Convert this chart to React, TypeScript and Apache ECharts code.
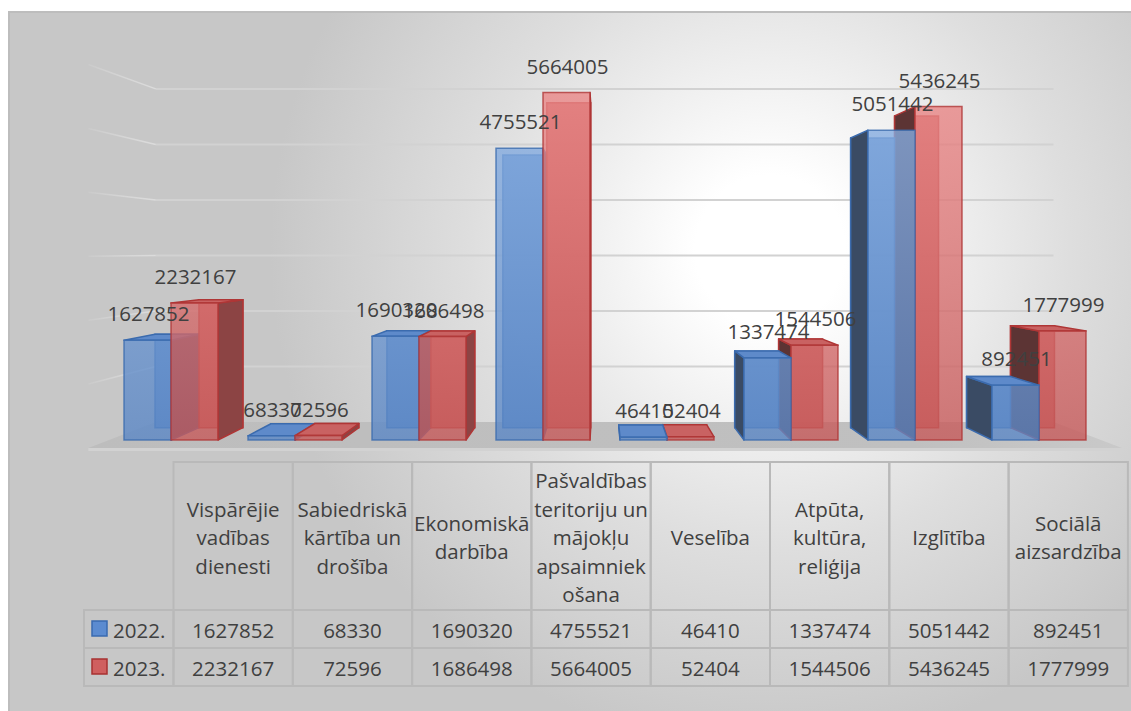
import React, { useEffect, useRef } from "react";
import * as echarts from "echarts";

// ---------- data ----------
const categories = [
  "Vispārējie\nvadības\ndienesti",
  "Sabiedriskā\nkārtība un\ndrošība",
  "Ekonomiskā\ndarbība",
  "Pašvaldības\nteritoriju un\nmājokļu\napsaimniek\nošana",
  "Veselība",
  "Atpūta,\nkultūra,\nreliģija",
  "Izglītība",
  "Sociālā\naizsardzība",
];
const seriesNames = ["2022.", "2023."];
const values2022 = [1627852, 68330, 1690320, 4755521, 46410, 1337474, 5051442, 892451];
const values2023 = [2232167, 72596, 1686498, 5664005, 52404, 1544506, 5436245, 1777999];
const valueTicks = [1000000, 2000000, 3000000, 4000000, 5000000, 6000000];
const seriesValues = [values2022, values2023];

// ---------- style / layout ----------
const FONT = "'Open Sans', 'Noto Sans', sans-serif";
const FS = 20.5;
const TEXT_C = "#404040";
const VP = [601, 250];
const S_BAR_BACK = 0.935;
const S_FLOOR_FRONT = 1.042;
const S_WALL = 0.905;
const BAR_FRAC = 0.379;

const proj = (x: number, y: number, s: number) => [VP[0] + s * (x - VP[0]), VP[1] + s * (y - VP[1])];

const PALETTE = [
  {
    gTop: "#8DB3E5",
    gBot: "#5B87C5",
    edge: "#3B6BAE",
    sideR: "#3E5F8E",
    sideL: "#3A4B64",
    top: "#5E8ACA",
    key: "#5B8BD0",
    keyEdge: "#3A6BB0",
  },
  {
    gTop: "#EC8A8A",
    gBot: "#C65A5A",
    edge: "#AF3636",
    sideR: "#8C4444",
    sideL: "#5C3434",
    top: "#C96262",
    key: "#CF5F5F",
    keyEdge: "#A83232",
  },
];

const barItems: number[][] = [];
categories.forEach((_, i) => {
  seriesValues.forEach((vals, si) => barItems.push([i, vals[i], si]));
});

// table layout
const TBL_LEFT = 173.5;
const COL_W = 119.3;
const HEAD_TOP = 462;
const HEAD_H = 148;
const ROW_H = 38;
const LEG_LEFT = 84;
const LINE_C = "#B9B9B9";

function buildGraphic() {
  const els: any[] = [];
  els.push({
    type: "rect",
    z: -10,
    silent: true,
    shape: { x: 9, y: 12, width: 1140, height: 720 },
    style: {
      fill: new echarts.graphic.RadialGradient(
        770,
        250,
        500,
        [
          { offset: 0, color: "#FFFFFF" },
          { offset: 0.15, color: "#FFFFFF" },
          { offset: 0.6, color: "#DEDEDE" },
          { offset: 1, color: "#C7C7C7" },
        ],
        true
      ),
      stroke: "#BDBDBD",
      lineWidth: 2,
    },
  });
  // header cells
  categories.forEach((name, i) => {
    const x = TBL_LEFT + i * COL_W;
    els.push({
      type: "rect",
      silent: true,
      shape: { x, y: HEAD_TOP, width: COL_W, height: HEAD_H },
      style: { fill: "none", stroke: LINE_C, lineWidth: 2 },
    });
    els.push({
      type: "text",
      silent: true,
      style: {
        text: name,
        x: x + COL_W / 2,
        y: HEAD_TOP + HEAD_H / 2 + 1,
        align: "center",
        verticalAlign: "middle",
        fontFamily: FONT,
        fontSize: FS,
        lineHeight: 28.5,
        fill: TEXT_C,
      },
    });
  });
  // data rows
  seriesNames.forEach((sn, r) => {
    const y = HEAD_TOP + HEAD_H + r * ROW_H;
    els.push({
      type: "rect",
      silent: true,
      shape: { x: LEG_LEFT, y, width: TBL_LEFT - LEG_LEFT, height: ROW_H },
      style: { fill: "none", stroke: LINE_C, lineWidth: 2 },
    });
    els.push({
      type: "rect",
      silent: true,
      shape: { x: 92, y: y + 11, width: 15, height: 15 },
      style: { fill: PALETTE[r].key, stroke: PALETTE[r].keyEdge, lineWidth: 1.5 },
    });
    els.push({
      type: "text",
      silent: true,
      style: {
        text: sn,
        x: 113,
        y: y + ROW_H / 2 + 1,
        align: "left",
        verticalAlign: "middle",
        fontFamily: FONT,
        fontSize: FS,
        fill: TEXT_C,
      },
    });
    seriesValues[r].forEach((v, i) => {
      const x = TBL_LEFT + i * COL_W;
      els.push({
        type: "rect",
        silent: true,
        shape: { x, y, width: COL_W, height: ROW_H },
        style: { fill: "none", stroke: LINE_C, lineWidth: 2 },
      });
      els.push({
        type: "text",
        silent: true,
        style: {
          text: String(v),
          x: x + COL_W / 2,
          y: y + ROW_H / 2 + 1,
          align: "center",
          verticalAlign: "middle",
          fontFamily: FONT,
          fontSize: FS,
          fill: TEXT_C,
        },
      });
    });
  });
  return els;
}

function renderGrid(params: any, api: any) {
  const cs = params.coordSys;
  const y = api.coord([0, api.value(0)])[1];
  const a = proj(cs.x, y, S_WALL);
  const b = proj(cs.x + cs.width, y, S_WALL);
  const c = proj(cs.x, y, S_FLOOR_FRONT);
  return {
    type: "group",
    children: [
      { type: "line", shape: { x1: a[0], y1: a[1], x2: b[0], y2: b[1] }, style: { stroke: "#D2D2D2", lineWidth: 2 } },
      {
        type: "line",
        shape: { x1: c[0], y1: c[1], x2: a[0], y2: a[1] },
        style: {
          stroke: new echarts.graphic.LinearGradient(
            c[0], 0, a[0], 0,
            [
              { offset: 0, color: "rgba(235,235,235,0.1)" },
              { offset: 1, color: "rgba(225,225,225,0.8)" },
            ],
            true
          ),
          lineWidth: 1.5,
        },
      },
    ],
  };
}

function renderFloor(params: any, api: any) {
  const cs = params.coordSys;
  const yb = api.coord([0, 0])[1];
  const p1 = proj(cs.x, yb, S_FLOOR_FRONT);
  const p2 = proj(cs.x + cs.width, yb, S_FLOOR_FRONT);
  const p3 = proj(cs.x + cs.width, yb, S_WALL);
  const p4 = proj(cs.x, yb, S_WALL);
  return {
    type: "group",
    children: [
      {
        type: "polygon",
        shape: { points: [p1, p2, p3, p4] },
        style: {
          fill: new echarts.graphic.LinearGradient(
            p1[0], 0, p2[0], 0,
            [
              { offset: 0, color: "#BDBDBD" },
              { offset: 0.8, color: "#C0C0C0" },
              { offset: 1, color: "#C9C9C9" },
            ],
            true
          ),
        },
      },
      { type: "line", shape: { x1: p1[0], y1: p1[1] + 1.5, x2: p2[0], y2: p2[1] + 1.5 }, style: { stroke: "#D2D2D2", lineWidth: 3 } },
    ],
  };
}

function renderBar(params: any, api: any) {
  const cs = params.coordSys;
  const ci = api.value(0);
  const v = api.value(1);
  const si = api.value(2);
  const band = cs.width / categories.length;
  const bw = band * BAR_FRAC;
  const c = api.coord([ci, 0]);
  const t = api.coord([ci, v]);
  const x0 = si === 0 ? c[0] - bw : c[0];
  const x1 = x0 + bw;
  const yb = c[1];
  const yt = t[1];
  const pal = PALETTE[si];
  const leftOfVP = c[0] < VP[0];
  const order = leftOfVP ? si : 1 - si;
  const zb = ci * 100 + order * 20;
  const b0t = proj(x0, yt, S_BAR_BACK);
  const b1t = proj(x1, yt, S_BAR_BACK);
  const b1b = proj(x1, yb, S_BAR_BACK);
  const b0b = proj(x0, yb, S_BAR_BACK);
  const children: any[] = [];
  children.push({
    type: "polygon",
    z2: zb,
    shape: { points: [b0t, b1t, b1b, b0b] },
    style: { fill: pal.gBot, stroke: pal.edge, lineWidth: 1.5, opacity: 0.9 },
  });
  if (x1 < VP[0]) {
    children.push({
      type: "polygon",
      z2: zb + 1,
      shape: { points: [[x1, yt], b1t, b1b, [x1, yb]] },
      style: { fill: pal.sideR, stroke: pal.edge, lineWidth: 1.5, lineJoin: "round" },
    });
  }
  if (x0 > VP[0]) {
    children.push({
      type: "polygon",
      z2: zb + 1,
      shape: { points: [[x0, yt], b0t, b0b, [x0, yb]] },
      style: { fill: pal.sideL, stroke: pal.edge, lineWidth: 1.5, lineJoin: "round" },
    });
  }
  if (yt > VP[1]) {
    children.push({
      type: "polygon",
      z2: zb + 2,
      shape: { points: [[x0, yt], [x1, yt], b1t, b0t] },
      style: { fill: pal.top, stroke: pal.edge, lineWidth: 1.5, lineJoin: "round" },
    });
  }
  children.push({
    type: "rect",
    z2: zb + 3,
    shape: { x: x0, y: yt, width: bw, height: yb - yt },
    style: {
      fill: new echarts.graphic.LinearGradient(
        0, 72, 0, 440,
        [
          { offset: 0, color: pal.gTop },
          { offset: 1, color: pal.gBot },
        ],
        true
      ),
      stroke: pal.edge,
      lineWidth: 1.5,
      opacity: 0.8,
    },
  });
  children.push({
    type: "text",
    z2: 10000 + ci * 2 + si,
    style: {
      text: String(v),
      x: (x0 + x1) / 2 + 1,
      y: yt - 27,
      align: "center",
      verticalAlign: "middle",
      fontFamily: FONT,
      fontSize: FS,
      fill: TEXT_C,
    },
  });
  return { type: "group", children };
}

export default function App() {
  const ref = useRef<HTMLDivElement>(null);
  useEffect(() => {
    const chart = echarts.init(ref.current!, undefined, { renderer: "svg" });
    chart.setOption({
      animation: false,
      backgroundColor: "#FFFFFF",
      graphic: buildGraphic(),
      grid: { left: 109, right: 30, top: 72, bottom: 271, containLabel: false },
      xAxis: { type: "category", data: categories, show: false, boundaryGap: true },
      yAxis: { type: "value", min: 0, max: 6000000, interval: 1000000, show: false },
      series: [
        { type: "custom", z: 1, silent: true, clip: false, data: valueTicks.map((v) => [v]), encode: { y: 0 }, renderItem: renderGrid },
        { type: "custom", z: 1, silent: true, clip: false, data: [[0]], encode: { y: 0 }, renderItem: renderFloor },
        { type: "custom", z: 2, silent: true, clip: false, data: barItems, encode: { x: 0, y: 1 }, renderItem: renderBar },
      ],
    });
    return () => chart.dispose();
  }, []);
  return <div ref={ref} style={{ position: "fixed", left: 0, top: 0, width: 1131, height: 711 }} />;
}
